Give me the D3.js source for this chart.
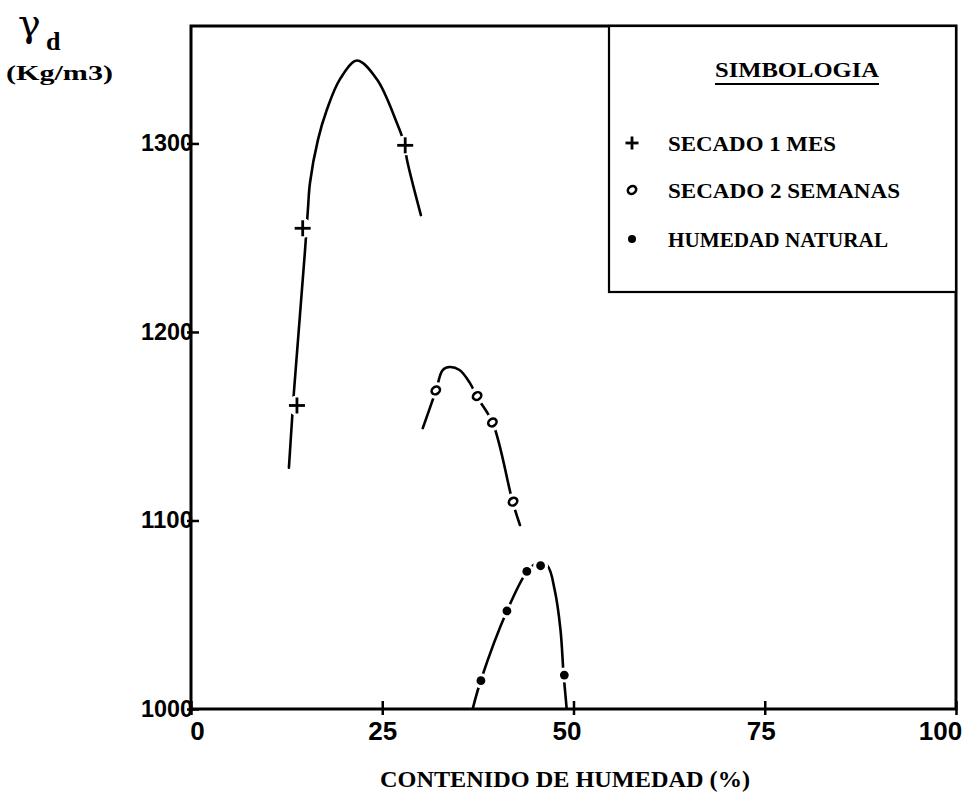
<!DOCTYPE html>
<html>
<head>
<meta charset="utf-8">
<script src="https://cdn.jsdelivr.net/npm/d3@7"></script>
<style>
  body { margin: 0; background: #fff; }
  svg { display: block; background: #fff; }
</style>
</head>
<body>
<svg id="chart" width="974" height="800"></svg>
<script>
// Dry density vs moisture content for three drying conditions
const xTicks = [0, 25, 50, 75, 100];
const yTicks = [1000, 1100, 1200, 1300];
const xLabel = "CONTENIDO DE HUMEDAD (%)";
const legendTitle = "SIMBOLOGIA";
const seriesNames = ["SECADO 1 MES", "SECADO 2 SEMANAS", "HUMEDAD NATURAL"];

// measured points
const mesX = [13.85, 14.6, 28.0];
const mesY = [1161, 1255, 1299];
const semX = [32.0, 37.4, 39.4, 42.1];
const semY = [1169, 1166, 1152, 1110];
const natX = [37.9, 41.3, 43.9, 45.7, 48.8];
const natY = [1015, 1052, 1073, 1076, 1018];

// hand-fitted curves through each series
const mesCurveX = [12.8, 13.2, 13.45, 14.9, 15.3, 15.55, 16.6, 17.77, 19.46, 21.7, 24.3, 26.9, 27.96, 28.2, 30.05];
const mesCurveY = [1128, 1153, 1168, 1243, 1266, 1279, 1302, 1318, 1334, 1344, 1334, 1311, 1299, 1292, 1262];
const semCurveX = [30.3, 32.0, 32.9, 33.8, 35.1, 36.45, 37.4, 39.45, 42.05, 43.0];
const semCurveY = [1149, 1168.7, 1179.8, 1181.4, 1179.8, 1173, 1165.5, 1151.7, 1109.8, 1097.6];
const natCurveX = [36.85, 37.9, 41.3, 43.9, 45.3, 46.6, 47.55, 48.3, 48.7, 49.1];
const natCurveY = [1000.5, 1015.4, 1052, 1072.7, 1077.5, 1075.9, 1063, 1042, 1018.6, 1000.5];

const svg = d3.select("#chart");
const padL = 191, padR = 956, padT = 26, padB = 709;

const x = d3.scaleLinear().domain([0, 100]).range([padL, padR]);
const y = d3.scaleLinear().domain([1000, 1362.3]).range([padB, padT]);

const ink = "#000";
const serif = "'Liberation Serif', 'DejaVu Serif', serif";
const sans = "'Liberation Sans', Arial, sans-serif";

// plot frame
svg.append("rect")
  .attr("x", padL).attr("y", padT)
  .attr("width", padR - padL).attr("height", padB - padT)
  .attr("fill", "none").attr("stroke", ink).attr("stroke-width", 3);

// axes
const yAxis = svg.append("g")
  .attr("transform", `translate(${padL},0)`)
  .call(d3.axisLeft(y).tickValues(yTicks).tickFormat(d3.format("d")).tickSizeOuter(0));
yAxis.select(".domain").remove();
yAxis.selectAll(".tick line").attr("x1", -4).attr("x2", 8)
  .attr("stroke", ink).attr("stroke-width", 2.5);
yAxis.selectAll(".tick text")
  .attr("x", 2).attr("dy", "0.3em")
  .attr("font-family", sans).attr("font-size", 24).attr("font-weight", "bold")
  .attr("textLength", 52).attr("lengthAdjust", "spacingAndGlyphs")
  .attr("fill", ink).attr("text-anchor", "end");

// typed labels sit slightly off their ticks
const xLabelShift = [6, 0, -7, -4, -16];
const xAxis = svg.append("g")
  .attr("transform", `translate(0,${padB})`)
  .call(d3.axisBottom(x).tickValues(xTicks).tickSizeOuter(0));
xAxis.select(".domain").remove();
xAxis.selectAll(".tick line").attr("y1", -8).attr("y2", 6)
  .attr("stroke", ink).attr("stroke-width", 2.5);
xAxis.selectAll(".tick text")
  .attr("y", 13).attr("dy", "0.71em")
  .attr("x", (d, i) => xLabelShift[i])
  .attr("font-family", sans).attr("font-size", 26).attr("font-weight", "bold")
  .attr("fill", ink);

// axis titles
svg.append("text")
  .attr("x", 565).attr("y", 787)
  .attr("text-anchor", "middle")
  .attr("font-family", serif).attr("font-weight", "bold").attr("font-size", 24)
  .attr("textLength", 370).attr("lengthAdjust", "spacingAndGlyphs")
  .text(xLabel);

svg.append("text")
  .attr("x", 18).attr("y", 36)
  .attr("font-family", "'DejaVu Serif', serif").attr("font-size", 38)
  .text("γ");
svg.append("text")
  .attr("x", 46).attr("y", 50)
  .attr("font-family", serif).attr("font-weight", "bold").attr("font-size", 26)
  .text("d");
svg.append("text")
  .attr("x", 6).attr("y", 80)
  .attr("font-family", serif).attr("font-weight", "bold").attr("font-size", 20)
  .attr("textLength", 107).attr("lengthAdjust", "spacingAndGlyphs")
  .text("(Kg/m3)");

// curves
const line = d3.line()
  .x(d => x(d[0])).y(d => y(d[1]))
  .curve(d3.curveCatmullRom.alpha(0.5));

const curves = [
  d3.zip(mesCurveX, mesCurveY),
  d3.zip(semCurveX, semCurveY),
  d3.zip(natCurveX, natCurveY)
];
svg.append("g").selectAll("path")
  .data(curves).join("path")
  .attr("d", line)
  .attr("fill", "none").attr("stroke", ink).attr("stroke-width", 2.6)
  .attr("stroke-linecap", "round");

// marker drawing helpers
function plus(g, size) {
  g.append("line").attr("x1", -size).attr("x2", size).attr("y1", 0).attr("y2", 0)
    .attr("stroke", ink).attr("stroke-width", 2.8);
  g.append("line").attr("x1", 0).attr("x2", 0).attr("y1", -size).attr("y2", size)
    .attr("stroke", ink).attr("stroke-width", 2.8);
}
function ring(g) {
  g.append("ellipse").attr("rx", 4.4).attr("ry", 3.6).attr("transform", "rotate(-35)")
    .attr("fill", "#fff").attr("stroke", ink).attr("stroke-width", 2.6);
}
function dot(g, r) {
  g.append("circle").attr("r", r).attr("fill", ink);
}

const seriesPts = [
  { pts: d3.zip(mesX, mesY), halo: 10, draw: g => plus(g, 8) },
  { pts: d3.zip(semX, semY), halo: 8.5, draw: g => ring(g) },
  { pts: d3.zip(natX, natY), halo: 7.5, draw: g => dot(g, 4.4) }
];

// white gaps around each marker, then the markers
seriesPts.forEach(s => {
  const gs = svg.append("g").selectAll("g")
    .data(s.pts).join("g")
    .attr("transform", d => `translate(${x(d[0])},${y(d[1])})`);
  gs.append("circle").attr("r", s.halo).attr("fill", "#fff");
  gs.each(function () { s.draw(d3.select(this)); });
});

// legend
const lg = svg.append("g");
lg.append("rect")
  .attr("x", 609).attr("y", padT).attr("width", padR - 609).attr("height", 266)
  .attr("fill", "#fff").attr("stroke", ink).attr("stroke-width", 2.2);
lg.append("text")
  .attr("x", 797).attr("y", 77).attr("text-anchor", "middle")
  .attr("font-family", serif).attr("font-weight", "bold").attr("font-size", 22)
  .attr("textLength", 164).attr("lengthAdjust", "spacingAndGlyphs")
  .text(legendTitle);
lg.append("line")
  .attr("x1", 715).attr("x2", 879).attr("y1", 84).attr("y2", 84)
  .attr("stroke", ink).attr("stroke-width", 2);

const rowY = [143, 190, 239];
const rowW = [168, 232, 220];
const drawers = [g => plus(g, 6.5), g => ring(g), g => dot(g, 4)];
seriesNames.forEach((name, i) => {
  const m = lg.append("g").attr("transform", `translate(632,${rowY[i]})`);
  drawers[i](m);
  lg.append("text")
    .attr("x", 668).attr("y", rowY[i] + 8)
    .attr("font-family", serif).attr("font-weight", "bold").attr("font-size", 22)
    .attr("textLength", rowW[i]).attr("lengthAdjust", "spacingAndGlyphs")
    .text(name);
});
</script>
</body>
</html>
